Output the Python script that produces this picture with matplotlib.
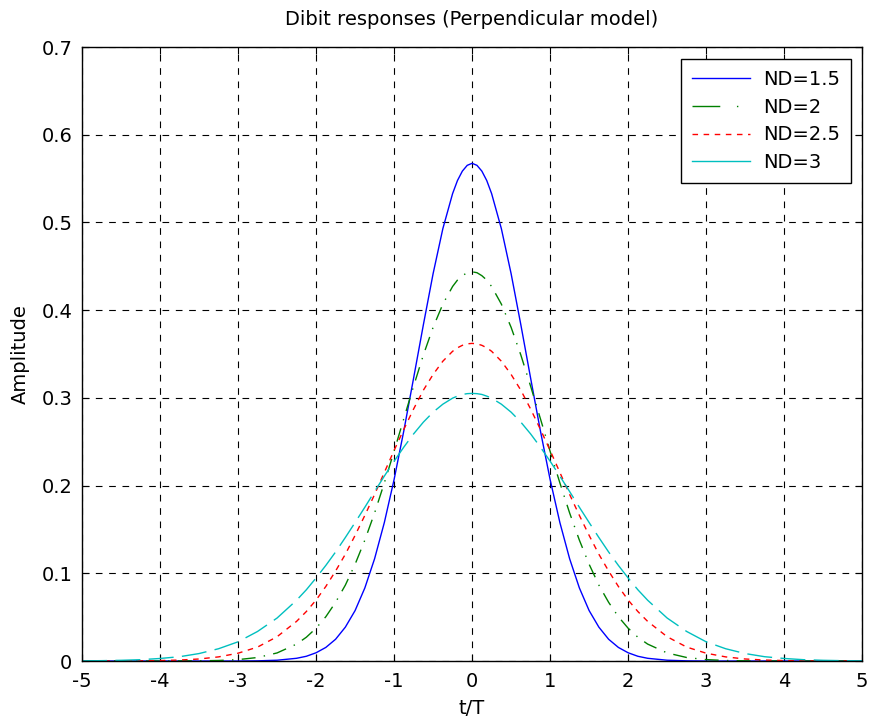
import numpy as np
import matplotlib
matplotlib.use("Agg")
import matplotlib.pyplot as plt
from matplotlib.lines import Line2D

plt.rcParams['font.family'] = ['DejaVu Sans']

# t/T sample points (right half; curves are symmetric about t=0)
t_half = [0.0, 0.0625, 0.125, 0.1875, 0.25, 0.375, 0.5, 0.625, 0.75, 0.875, 1.0, 1.125, 1.25,
          1.375, 1.5, 1.625, 1.75, 1.875, 2.0, 2.125, 2.25,
          2.5, 2.75, 3.0, 3.25, 3.5, 3.75, 4.0, 4.25, 4.5, 4.75, 5.0]

nd15 = [0.5674, 0.5651, 0.5585, 0.5478, 0.5329, 0.4929, 0.4416, 0.3832, 0.3225, 0.2626, 0.2069, 0.1579, 0.1166,
        0.0833, 0.0575, 0.0386, 0.0248, 0.0155, 0.0094, 0.0054, 0.0031,
        0.0009, 0.0002, 0.0, 0.0, 0.0, 0.0, 0.0, 0.0, 0.0, 0.0, 0.0]
nd20 = [0.4437, 0.4427, 0.4393, 0.4343, 0.4270, 0.4069, 0.3804, 0.3488, 0.3133, 0.2764, 0.2391, 0.2031, 0.1688,
        0.1378, 0.1103, 0.0865, 0.0669, 0.0505, 0.0374, 0.0271, 0.0193,
        0.0092, 0.0040, 0.0016, 0.0006, 0.0002, 0.0001, 0.0, 0.0, 0.0, 0.0, 0.0]
nd25 = [0.3621, 0.3616, 0.3599, 0.3571, 0.3531, 0.3418, 0.3267, 0.3087, 0.2873, 0.2642, 0.2401, 0.2150, 0.1899,
        0.1660, 0.1432, 0.1217, 0.1026, 0.0850, 0.0695, 0.0564, 0.0452,
        0.0277, 0.0159, 0.0089, 0.0047, 0.0023, 0.0011, 0.0005, 0.0002, 0.0001, 0.0, 0.0]
nd30 = [0.3051, 0.3048, 0.3039, 0.3020, 0.2997, 0.2928, 0.2837, 0.2723, 0.2589, 0.2439, 0.2278, 0.2108, 0.1932,
        0.1753, 0.1579, 0.1408, 0.1243, 0.1090, 0.0947, 0.0812, 0.0693,
        0.0490, 0.0337, 0.0219, 0.0140, 0.0085, 0.0049, 0.0029, 0.0015, 0.0008, 0.0004, 0.0002]

labels = ['ND=1.5', 'ND=2', 'ND=2.5', 'ND=3']
colors = ['#0000ff', '#008000', '#ff0000', '#00bfbf']

def full(vals):
    t = np.array(t_half)
    v = np.array(vals)
    return np.concatenate([-t[:0:-1], t]), np.concatenate([v[:0:-1], v])

fig = plt.figure(figsize=(8.7, 7.21), dpi=100)
ax = fig.add_axes([0.0943, 0.0832, 0.8967, 0.8516])

styles = ['-', (0, (10, 6, 1, 6)), (0, (4, 4)), (0, (18, 6))]
for vals, c, ls in zip([nd15, nd20, nd25, nd30], colors, styles):
    x, y = full(vals)
    ax.plot(x, y, color=c, lw=1.0, linestyle=ls)

ax.set_xlim(-5, 5)
ax.set_ylim(0, 0.7)
ax.set_xticks(np.arange(-5, 6, 1))
ax.set_yticks(np.arange(0, 0.71, 0.1))
ax.set_xticklabels([str(v) for v in range(-5, 6)])
ax.set_yticklabels(['0', '0.1', '0.2', '0.3', '0.4', '0.5', '0.6', '0.7'])
ax.grid(True, color='black', linestyle=(0, (6, 6)), linewidth=0.8)
ax.tick_params(direction='in', labelsize=14, length=5, top=True, right=True,
               labeltop=False, labelright=False)
ax.tick_params(axis='x', pad=8)
ax.tick_params(axis='y', pad=7)
for s in ax.spines.values():
    s.set_linewidth(1.0)

ax.set_xlabel('t/T', fontsize=14, labelpad=6)
ax.set_ylabel('Amplitude', fontsize=14, labelpad=8)
ax.set_title('Dibit responses (Perpendicular model)', fontsize=14, pad=16)

handles = [
    Line2D([], [], color=colors[0], lw=1.0, linestyle='-'),
    Line2D([], [], color=colors[1], lw=1.0, linestyle=(0, (20, 12, 1, 12))),
    Line2D([], [], color=colors[2], lw=1.0, linestyle=(0, (4, 4))),
    Line2D([], [], color=colors[3], lw=1.0, linestyle='-'),
]
leg = ax.legend(handles, labels, loc='upper right', fontsize=14, fancybox=False,
                edgecolor='black', framealpha=1, borderpad=0.55, handlelength=3.0,
                handletextpad=0.7, labelspacing=0.45, borderaxespad=0,
                bbox_to_anchor=(0.986, 0.980))
leg.get_frame().set_linewidth(1.0)

fig.savefig('out.png', dpi=100)
